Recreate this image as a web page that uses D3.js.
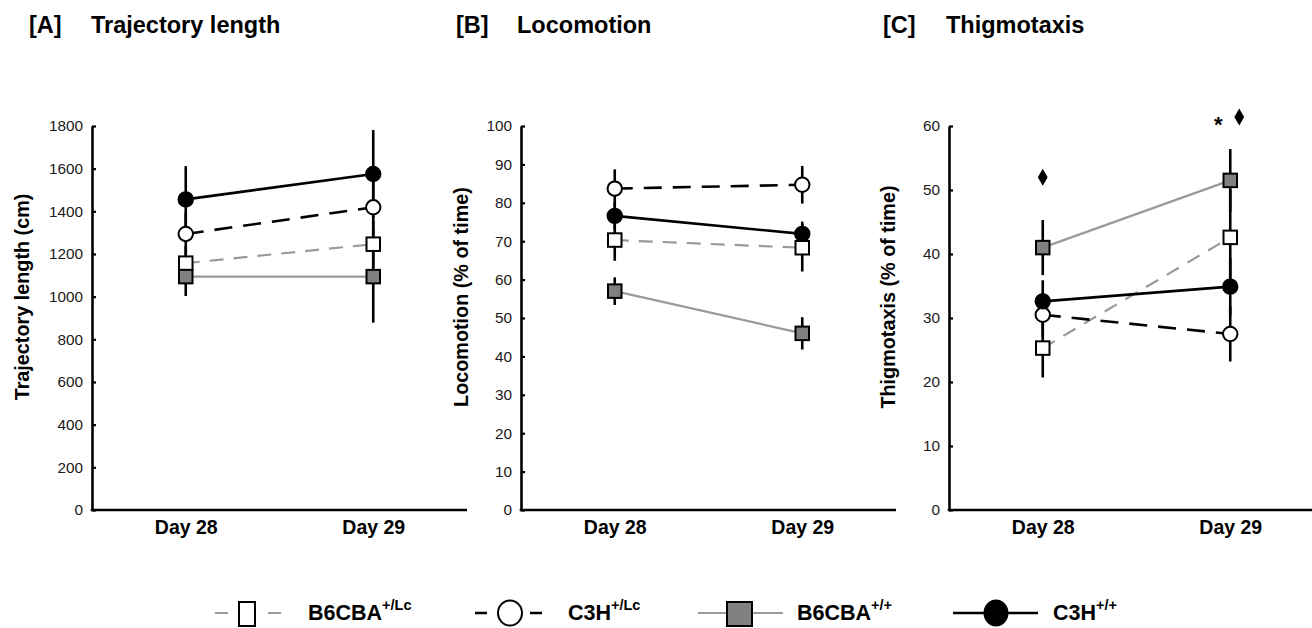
<!DOCTYPE html>
<html>
<head>
<meta charset="utf-8">
<script src="https://cdn.jsdelivr.net/npm/d3@7"></script>
<style>
  html, body { margin: 0; padding: 0; background: #fff; }
  svg { display: block; font-family: "Liberation Sans", Arial, sans-serif; }
</style>
</head>
<body>
<svg id="chart" width="1312" height="628"></svg>
<script>
// ---- data ----
const days = ["Day 28", "Day 29"];
const strains = ["B6CBA", "C3H", "B6CBA", "C3H"];
const genotypes = ["+/Lc", "+/Lc", "+/+", "+/+"];

// mean and SEM per group (rows follow strains/genotypes), columns follow days
const trajectoryMean = [[1157, 1246], [1294, 1419], [1094, 1094], [1456, 1575]];
const trajectorySem  = [[80, 110], [100, 120], [91, 216], [156, 206]];
const locomotionMean = [[70.3, 68.3], [83.7, 84.7], [57.0, 46.0], [76.6, 71.9]];
const locomotionSem  = [[5.4, 6.2], [5.0, 4.9], [3.6, 4.2], [3.5, 3.2]];
const thigmotaxisMean = [[25.3, 42.6], [30.5, 27.5], [41.0, 51.5], [32.6, 34.9]];
const thigmotaxisSem  = [[4.6, 7.5], [3.5, 4.3], [4.3, 4.9], [3.3, 4.5]];

const trajectoryTicks = [0, 200, 400, 600, 800, 1000, 1200, 1400, 1600, 1800];
const locomotionTicks = [0, 10, 20, 30, 40, 50, 60, 70, 80, 90, 100];
const thigmotaxisTicks = [0, 10, 20, 30, 40, 50, 60];

const panelLetters = ["[A]", "[B]", "[C]"];
const panelTitles = ["Trajectory length", "Locomotion", "Thigmotaxis"];
const yLabels = ["Trajectory length (cm)", "Locomotion (% of time)", "Thigmotaxis (% of time)"];

// significance marks on the thigmotaxis panel
const thigmotaxisMarkDays = ["Day 28", "Day 29", "Day 29"];
const thigmotaxisMarkSymbols = ["diamond", "star", "diamond"];
const thigmotaxisMarkValues = [52, 61.2, 61.4];

// ---- styles per group ----
const seriesStyle = [
  { stroke: "#9a9a9a", width: 2.2, dash: "14,10", shape: "square", fill: "#ffffff" },
  { stroke: "#000000", width: 2.6, dash: "18,11", shape: "circle", fill: "#ffffff" },
  { stroke: "#9a9a9a", width: 2.2, dash: null,    shape: "square", fill: "#808080" },
  { stroke: "#000000", width: 2.6, dash: null,    shape: "circle", fill: "#000000" }
];

const svg = d3.select("#chart");
const plotTop = 126, plotBottom = 510, axisLen = 375;

const panels = [
  { axisX: 92,  ticks: trajectoryTicks,  mean: trajectoryMean,  sem: trajectorySem,  labelX: 22.5, letterX: 29,  titleX: 91 },
  { axisX: 521, ticks: locomotionTicks,  mean: locomotionMean,  sem: locomotionSem,  labelX: 461,  letterX: 456, titleX: 517 },
  { axisX: 949, ticks: thigmotaxisTicks, mean: thigmotaxisMean, sem: thigmotaxisSem, labelX: 888,  letterX: 883, titleX: 946 }
];

panels.forEach((p, pi) => {
  const g = svg.append("g");
  const x = d3.scalePoint().domain(days).range([p.axisX, p.axisX + axisLen]).padding(0.5);
  const y = d3.scaleLinear().domain([0, d3.max(p.ticks)]).range([plotBottom, plotTop]);

  // titles
  g.append("text").attr("x", p.letterX).attr("y", 33)
    .attr("font-size", 23.5).attr("font-weight", "bold").text(panelLetters[pi]);
  g.append("text").attr("x", p.titleX).attr("y", 33)
    .attr("font-size", 23.5).attr("font-weight", "bold").text(panelTitles[pi]);

  // y axis
  const yAxis = g.append("g").attr("transform", `translate(${p.axisX},0)`)
    .call(d3.axisLeft(y).tickValues(p.ticks).tickFormat(d3.format("d"))
      .tickSizeInner(-4).tickSizeOuter(0).tickPadding(9));
  yAxis.select(".domain").attr("stroke", "#000").attr("stroke-width", 2.6);
  yAxis.selectAll(".tick line").attr("stroke", "#000").attr("stroke-width", 2.2);
  yAxis.selectAll(".tick text").attr("font-size", 15.3).attr("fill", "#1a1a1a")
    .attr("font-family", "'Liberation Sans', Arial, sans-serif");

  // x axis
  const xAxis = g.append("g").attr("transform", `translate(0,${plotBottom})`)
    .call(d3.axisBottom(x).tickSize(0).tickPadding(10.5));
  xAxis.select(".domain").attr("stroke", "#000").attr("stroke-width", 2.6)
    .attr("d", `M${p.axisX - 1.3},0H${p.axisX + axisLen}`);
  xAxis.selectAll(".tick text").attr("font-size", 19.5).attr("font-weight", "bold")
    .attr("fill", "#000").attr("font-family", "'Liberation Sans', Arial, sans-serif");

  // y label
  g.append("text")
    .attr("transform", `translate(${p.labelX},297) rotate(-90)`)
    .attr("text-anchor", "middle").attr("dy", "0.35em")
    .attr("font-size", 19.8).attr("font-weight", "bold").text(yLabels[pi]);

  const series = p.mean.map((m, si) => ({
    si, pts: days.map((d, di) => ({ day: d, v: m[di], e: p.sem[si][di] }))
  }));

  // error bars
  series.forEach(s => {
    g.selectAll(null).data(s.pts).enter().append("line")
      .attr("x1", d => x(d.day)).attr("x2", d => x(d.day))
      .attr("y1", d => y(d.v - d.e)).attr("y2", d => y(d.v + d.e))
      .attr("stroke", "#000").attr("stroke-width", 2.6);
  });

  // connecting lines
  const line = d3.line().x(d => x(d.day)).y(d => y(d.v));
  series.forEach(s => {
    const st = seriesStyle[s.si];
    g.append("path").datum(s.pts).attr("d", line)
      .attr("fill", "none").attr("stroke", st.stroke).attr("stroke-width", st.width)
      .attr("stroke-dasharray", st.dash);
  });

  // markers
  series.forEach(s => {
    const st = seriesStyle[s.si];
    if (st.shape === "circle") {
      g.selectAll(null).data(s.pts).enter().append("circle")
        .attr("cx", d => x(d.day)).attr("cy", d => y(d.v)).attr("r", 7.2)
        .attr("fill", st.fill).attr("stroke", "#000").attr("stroke-width", 2);
    } else {
      const side = 13.5;
      g.selectAll(null).data(s.pts).enter().append("rect")
        .attr("x", d => x(d.day) - side / 2).attr("y", d => y(d.v) - side / 2)
        .attr("width", side).attr("height", side)
        .attr("fill", st.fill).attr("stroke", "#000").attr("stroke-width", 2);
    }
  });

  // significance marks
  if (pi === 2) {
    const marks = thigmotaxisMarkDays.map((d, i) => ({ day: d, sym: thigmotaxisMarkSymbols[i], v: thigmotaxisMarkValues[i] }));
    const byDay = d3.group(marks, m => m.day);
    byDay.forEach(list => {
      list.forEach((m, k) => {
        const off = list.length > 1 ? (k === 0 ? -12 : 9) : 0;
        const cx = x(m.day) + off, cy = y(m.v);
        if (m.sym === "diamond") {
          g.append("path").attr("d", d3.symbol(d3.symbolDiamond, 84)())
            .attr("transform", `translate(${cx},${cy})`).attr("fill", "#000");
        } else {
          g.append("text").attr("x", cx).attr("y", cy).attr("dy", "0.62em")
            .attr("text-anchor", "middle").attr("font-size", 22).attr("font-weight", "bold")
            .text("*");
        }
      });
    });
  }
});

// ---- legend ----
const legendY = 613;
const legendItems = [
  { x1: 215, x2: 282, mx: 247,   mw: 16, textX: 308 },
  { x1: 475, x2: 543, mx: 510,   mw: 24, textX: 568 },
  { x1: 698, x2: 783, mx: 739.5, mw: 25, textX: 797 },
  { x1: 953, x2: 1038, mx: 996,  mw: 23, textX: 1053 }
];
const legendDash = ["13,40", "12,43", null, null];
const lg = svg.append("g");
legendItems.forEach((it, i) => {
  const st = seriesStyle[i];
  lg.append("line").attr("x1", it.x1).attr("x2", it.x2).attr("y1", legendY).attr("y2", legendY)
    .attr("stroke", st.stroke).attr("stroke-width", st.width).attr("stroke-dasharray", legendDash[i]);
  if (st.shape === "circle") {
    lg.append("ellipse").attr("cx", it.mx).attr("cy", legendY).attr("rx", it.mw / 2).attr("ry", 12.5)
      .attr("fill", st.fill).attr("stroke", "#000").attr("stroke-width", 2);
  } else {
    lg.append("rect").attr("x", it.mx - it.mw / 2).attr("y", legendY - 11).attr("width", it.mw).attr("height", 24)
      .attr("fill", st.fill).attr("stroke", "#000").attr("stroke-width", 2);
  }
  const t = lg.append("text").attr("x", it.textX).attr("y", 620)
    .attr("font-size", 21.5).attr("font-weight", "bold");
  t.append("tspan").text(strains[i]);
  t.append("tspan").attr("font-size", 14.5).attr("dy", -10).text(genotypes[i]);
});
</script>
</body>
</html>
